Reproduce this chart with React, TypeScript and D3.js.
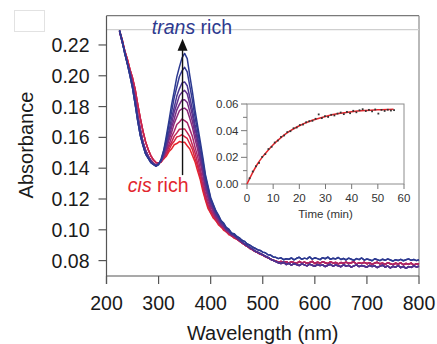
import { useEffect, useRef } from 'react'
import * as d3 from 'd3'

const width = 437
const height = 344
const font = 'Liberation Sans, Arial, sans-serif'

// main plot ticks
const xTicks = [200, 300, 400, 500, 600, 700, 800]
const yTicks = [0.08, 0.10, 0.12, 0.14, 0.16, 0.18, 0.20, 0.22]

// inset ticks
const insetXTicks = [0, 10, 20, 30, 40, 50, 60]
const insetYTicks = [0.00, 0.02, 0.04, 0.06]
const insetYMinor = [0.01, 0.03, 0.05]

// wavelength sampling (nm)
const waveHead = [225, 230, 235, 240, 245, 250, 255, 260, 265, 270, 275, 280, 285, 290, 295]
const wavePeak = [300, 305, 310, 315, 320, 325, 330, 335, 340, 345, 350, 355, 360, 365, 370, 375, 380, 385, 390, 395, 400, 405, 410, 415, 420, 425, 430, 435, 440, 445, 450]
const waveTail = [455, 460, 465, 470, 475, 480, 485, 490, 495, 500, 505, 510, 515, 520, 525, 530, 535, 540, 545, 550,
  555, 560, 565, 570, 575, 580, 585, 590, 595, 600, 605, 610, 615, 620, 625, 630, 635, 640, 645, 650,
  655, 660, 665, 670, 675, 680, 685, 690, 695, 700, 705, 710, 715, 720, 725, 730, 735, 740, 745, 750,
  755, 760, 765, 770, 775, 780, 785, 790, 795, 800]

// short-wavelength part, nearly shared by the spectra
const headBlue = [0.2295, 0.2228, 0.2146, 0.2079, 0.2003, 0.1921, 0.1818, 0.1707, 0.1612, 0.1548, 0.1493, 0.1466, 0.1438, 0.1424, 0.1413]
const headPurple = [0.2288, 0.2221, 0.2158, 0.2082, 0.2024, 0.1942, 0.1852, 0.1738, 0.1649, 0.1569, 0.1516, 0.1478, 0.1451, 0.1430, 0.1421]
const headRed = [0.2292, 0.2236, 0.2163, 0.2107, 0.2041, 0.1985, 0.1912, 0.1813, 0.1722, 0.1641, 0.1572, 0.1521, 0.1482, 0.1454, 0.1437]

// 300-450 nm band, one row per spectrum (trans rich -> cis rich)
const peak0 = [0.1422, 0.1461, 0.1518, 0.1612, 0.1708, 0.1812, 0.1901, 0.1993, 0.2058, 0.2116, 0.2145, 0.2111, 0.1999, 0.1896, 0.1777, 0.1675, 0.1574, 0.1471, 0.1358, 0.1284, 0.1210, 0.1166, 0.1124, 0.1095, 0.1060, 0.1044, 0.1016, 0.1004, 0.0980, 0.0975, 0.0958]
const peak1 = [0.1425, 0.1452, 0.1515, 0.1587, 0.1683, 0.1765, 0.1858, 0.1927, 0.1995, 0.2032, 0.2055, 0.2025, 0.1932, 0.1839, 0.1732, 0.1640, 0.1545, 0.1448, 0.1344, 0.1273, 0.1202, 0.1161, 0.1118, 0.1091, 0.1057, 0.1040, 0.1013, 0.1001, 0.0978, 0.0972, 0.0955]
const peak2 = [0.1427, 0.1455, 0.1498, 0.1571, 0.1642, 0.1726, 0.1795, 0.1868, 0.1915, 0.1953, 0.1960, 0.1935, 0.1859, 0.1778, 0.1684, 0.1601, 0.1509, 0.1421, 0.1323, 0.1255, 0.1189, 0.1150, 0.1109, 0.1083, 0.1050, 0.1034, 0.1008, 0.0996, 0.0974, 0.0967, 0.0950]
const peak3 = [0.1428, 0.1447, 0.1497, 0.1551, 0.1625, 0.1689, 0.1763, 0.1817, 0.1871, 0.1893, 0.1905, 0.1883, 0.1815, 0.1743, 0.1655, 0.1578, 0.1487, 0.1401, 0.1304, 0.1239, 0.1177, 0.1141, 0.1101, 0.1076, 0.1044, 0.1029, 0.1003, 0.0992, 0.0970, 0.0964, 0.0948]
const peak4 = [0.1429, 0.1451, 0.1484, 0.1543, 0.1597, 0.1665, 0.1719, 0.1779, 0.1814, 0.1843, 0.1845, 0.1827, 0.1767, 0.1703, 0.1622, 0.1551, 0.1463, 0.1378, 0.1284, 0.1222, 0.1163, 0.1130, 0.1092, 0.1069, 0.1038, 0.1024, 0.0999, 0.0988, 0.0967, 0.0961, 0.0946]
const peak5 = [0.1430, 0.1444, 0.1484, 0.1524, 0.1583, 0.1632, 0.1691, 0.1732, 0.1773, 0.1785, 0.1790, 0.1775, 0.1723, 0.1665, 0.1589, 0.1521, 0.1437, 0.1355, 0.1265, 0.1206, 0.1150, 0.1119, 0.1083, 0.1062, 0.1032, 0.1019, 0.0995, 0.0985, 0.0964, 0.0959, 0.0944]
const peak6 = [0.1431, 0.1448, 0.1471, 0.1515, 0.1553, 0.1603, 0.1640, 0.1683, 0.1700, 0.1719, 0.1709, 0.1696, 0.1652, 0.1605, 0.1537, 0.1475, 0.1395, 0.1319, 0.1235, 0.1183, 0.1133, 0.1106, 0.1073, 0.1054, 0.1026, 0.1014, 0.0991, 0.0982, 0.0962, 0.0957, 0.0942]
const peak7 = [0.1432, 0.1441, 0.1471, 0.1497, 0.1539, 0.1569, 0.1608, 0.1629, 0.1653, 0.1654, 0.1655, 0.1631, 0.1603, 0.1550, 0.1500, 0.1432, 0.1369, 0.1287, 0.1220, 0.1160, 0.1126, 0.1090, 0.1071, 0.1042, 0.1027, 0.1004, 0.0994, 0.0973, 0.0966, 0.0949, 0.0941]
const peak8 = [0.1433, 0.1446, 0.1461, 0.1494, 0.1518, 0.1554, 0.1575, 0.1603, 0.1608, 0.1617, 0.1605, 0.1593, 0.1557, 0.1521, 0.1463, 0.1411, 0.1340, 0.1274, 0.1199, 0.1154, 0.1111, 0.1089, 0.1059, 0.1043, 0.1017, 0.1007, 0.0985, 0.0977, 0.0958, 0.0954, 0.0940]
const peak9 = [0.1434, 0.1439, 0.1462, 0.1478, 0.1508, 0.1525, 0.1552, 0.1560, 0.1573, 0.1568, 0.1568, 0.1546, 0.1525, 0.1482, 0.1441, 0.1381, 0.1326, 0.1251, 0.1191, 0.1137, 0.1108, 0.1076, 0.1059, 0.1032, 0.1019, 0.0997, 0.0988, 0.0968, 0.0962, 0.0946, 0.0939]

// long-wavelength noisy baseline
const tailBlue = [0.0948, 0.0932, 0.0925, 0.0908, 0.0901, 0.0889, 0.0880, 0.0871, 0.0866, 0.0855, 0.0851, 0.0838, 0.0836, 0.0824, 0.0821, 0.0813, 0.0818, 0.0806, 0.0812, 0.0809,
  0.0817, 0.0805, 0.0815, 0.0822, 0.0808, 0.0816, 0.0811, 0.0824, 0.0809, 0.0818, 0.0813, 0.0806, 0.0819, 0.0812, 0.0823, 0.0808, 0.0815, 0.0811, 0.0820, 0.0807,
  0.0814, 0.0804, 0.0816, 0.0809, 0.0801, 0.0813, 0.0806, 0.0817, 0.0803, 0.0810, 0.0805, 0.0799, 0.0812, 0.0806, 0.0800, 0.0809, 0.0802, 0.0811, 0.0804, 0.0797,
  0.0806, 0.0801, 0.0808, 0.0799, 0.0805, 0.0811, 0.0802, 0.0807, 0.0800, 0.0806]
const tailPurple = [0.0935, 0.0921, 0.0909, 0.0897, 0.0884, 0.0876, 0.0862, 0.0855, 0.0846, 0.0839, 0.0828, 0.0821, 0.0809, 0.0801, 0.0793, 0.0786, 0.0781, 0.0789, 0.0775, 0.0782,
  0.0771, 0.0780, 0.0774, 0.0768, 0.0779, 0.0772, 0.0766, 0.0777, 0.0770, 0.0763, 0.0775, 0.0768, 0.0772, 0.0761, 0.0770, 0.0776, 0.0764, 0.0771, 0.0767, 0.0760,
  0.0773, 0.0765, 0.0769, 0.0758, 0.0766, 0.0772, 0.0761, 0.0768, 0.0763, 0.0757, 0.0769, 0.0762, 0.0766, 0.0755, 0.0764, 0.0770, 0.0758, 0.0765, 0.0752, 0.0763,
  0.0757, 0.0768, 0.0754, 0.0762, 0.0750, 0.0761, 0.0756, 0.0765, 0.0759, 0.0763]
const tailRed = [0.0928, 0.0915, 0.0903, 0.0893, 0.0880, 0.0871, 0.0860, 0.0852, 0.0843, 0.0836, 0.0826, 0.0818, 0.0810, 0.0802, 0.0797, 0.0790, 0.0795, 0.0786, 0.0793, 0.0784,
  0.0791, 0.0787, 0.0782, 0.0794, 0.0785, 0.0790, 0.0783, 0.0788, 0.0795, 0.0781, 0.0789, 0.0784, 0.0792, 0.0786, 0.0780, 0.0791, 0.0785, 0.0788, 0.0779, 0.0787,
  0.0783, 0.0790, 0.0781, 0.0786, 0.0792, 0.0778, 0.0785, 0.0782, 0.0789, 0.0780, 0.0786, 0.0776, 0.0784, 0.0789, 0.0779, 0.0783, 0.0775, 0.0786, 0.0780, 0.0774,
  0.0783, 0.0778, 0.0785, 0.0773, 0.0781, 0.0776, 0.0784, 0.0771, 0.0780, 0.0777]

const heads = [headBlue, headPurple, headRed]
const tails = [tailBlue, tailPurple, tailRed]
const peaks = [peak0, peak1, peak2, peak3, peak4, peak5, peak6, peak7, peak8, peak9]
const headOf = [0, 0, 0, 1, 1, 1, 1, 2, 2, 2]
const tailOf = [0, 0, 1, 1, 1, 1, 2, 2, 2, 2]
const curveColors = ['#2b3990', '#343a93', '#4a3591', '#61318c', '#772d85', '#8d297a', '#a8266a', '#c42453', '#d9243d', '#e5242c']

// inset kinetics: points and fitted curve
const kinTime = [1, 2.2, 3.4, 4.6, 5.8, 7, 8.2, 9.4, 10.6, 11.8, 13, 14.2, 15.4, 16.6, 17.8, 19, 20.2, 21.4, 22.6, 23.8, 25, 26.2, 27.4, 28.6,
  29.8, 31, 32.2, 33.4, 34.6, 35.8, 37, 38.2, 39.4, 40.6, 41.8, 43, 44.2, 45.4, 46.6, 47.8, 49, 50.2, 51.4, 52.6, 53.8, 55, 56.2]
const kinValue = [0.0043, 0.0094, 0.0133, 0.0158, 0.0203, 0.0224, 0.0262, 0.0279, 0.0311, 0.0326, 0.0353, 0.0364, 0.0389, 0.0396, 0.0418, 0.0424, 0.0442, 0.0446, 0.0463, 0.0471, 0.0474, 0.0489, 0.0522, 0.0494,
  0.0509, 0.0503, 0.0519, 0.0514, 0.0528, 0.0536, 0.0524, 0.0541, 0.0531, 0.0549, 0.0538, 0.0553, 0.0561, 0.0547, 0.0556, 0.0545, 0.0559, 0.0528, 0.0556, 0.0548, 0.0557, 0.0551, 0.0554]
const fitTime = [0, 2, 4, 6, 8, 10, 13, 16, 20, 25, 30, 35, 40, 45, 50, 56]
const fitValue = [0, 0.0080, 0.0150, 0.0205, 0.0252, 0.0295, 0.0348, 0.0392, 0.0437, 0.0478, 0.0507, 0.0528, 0.0542, 0.0551, 0.0557, 0.0561]

// annotations (data units)
const arrowWave = 346
const arrowFrom = 0.1355
const arrowTo = 0.2240
const guideLevel = 0.23
const transPos = [287, 0.2271]
const cisPos = [241, 0.1245]

export default function App() {
  const svgRef = useRef<SVGSVGElement>(null)

  useEffect(() => {
    if (!svgRef.current) return
    const svg = d3.select(svgRef.current)
    svg.selectAll('*').remove()

    const x = d3.scaleLinear().domain([200, 800]).range([106.5, 419])
    const y = d3.scaleLinear().domain([0.07, 0.239]).range([276, 15.7])
    const [x0, x1] = x.range()
    const [yb, yt] = y.range()

    // stray box top-left
    svg.append('rect')
      .attr('x', 14.5).attr('y', 10.5).attr('width', 30).attr('height', 21)
      .style('fill', 'none').style('stroke', '#e2e2e2')

    // frame
    svg.append('line').attr('x1', x0).attr('x2', x1).attr('y1', yt).attr('y2', yt)
      .style('stroke', '#7a7a7a').style('stroke-width', '1.2px')
    svg.append('line').attr('x1', x1).attr('x2', x1).attr('y1', yt).attr('y2', yb)
      .style('stroke', '#8a8a8a').style('stroke-width', '1.2px')
    svg.append('line').attr('x1', x0).attr('x2', x1).attr('y1', y(guideLevel)).attr('y2', y(guideLevel))
      .style('stroke', '#cfcfcf').style('stroke-width', '1.2px')

    // spectra
    const line = d3.line<[number, number]>()
      .x(d => x(d[0]))
      .y(d => y(d[1]))
    for (let i = peaks.length - 1; i >= 0; i--) {
      const head = heads[headOf[i]]
      const tail = tails[tailOf[i]]
      const pts: [number, number][] = [
        ...waveHead.map((w, k) => [w, head[k]] as [number, number]),
        ...wavePeak.map((w, k) => [w, peaks[i][k]] as [number, number]),
        ...waveTail.map((w, k) => [w, tail[k]] as [number, number])
      ]
      svg.append('path')
        .attr('d', line(pts))
        .style('fill', 'none')
        .style('stroke', curveColors[i])
        .style('stroke-width', '1.5px')
        .style('stroke-linejoin', 'round')
    }

    // arrow
    const ax = x(arrowWave)
    svg.append('line')
      .attr('x1', ax).attr('x2', ax)
      .attr('y1', y(arrowFrom)).attr('y2', y(arrowTo) + 10)
      .style('stroke', '#111').style('stroke-width', '1.4px')
    svg.append('path')
      .attr('d', `M${ax},${y(arrowTo)} L${ax - 5},${y(arrowTo) + 12} L${ax + 5},${y(arrowTo) + 12} Z`)
      .style('fill', '#111')

    // annotations
    const trans = svg.append('text')
      .attr('x', x(transPos[0])).attr('y', y(transPos[1]))
      .style('fill', '#2e3a8f').style('font-size', '19.5px').style('font-family', font)
    trans.append('tspan').style('font-style', 'italic').text('trans')
    trans.append('tspan').text(' rich')
    const cis = svg.append('text')
      .attr('x', x(cisPos[0])).attr('y', y(cisPos[1]))
      .style('fill', '#e2262e').style('font-size', '19.5px').style('font-family', font)
    cis.append('tspan').style('font-style', 'italic').text('cis')
    cis.append('tspan').text(' rich')

    // axes
    svg.append('line').attr('x1', x0).attr('x2', x0).attr('y1', yt).attr('y2', yb + 8)
      .style('stroke', '#555').style('stroke-width', '1.2px')
    svg.append('line').attr('x1', x0).attr('x2', x1).attr('y1', yb).attr('y2', yb)
      .style('stroke', '#555').style('stroke-width', '1.2px')

    xTicks.forEach(t => {
      svg.append('line').attr('x1', x(t)).attr('x2', x(t)).attr('y1', yb).attr('y2', yb + 8)
        .style('stroke', '#555').style('stroke-width', '1.2px')
      svg.append('text')
        .attr('x', x(t)).attr('y', 310)
        .attr('text-anchor', 'middle')
        .style('fill', '#1a1a1a').style('font-size', '19.5px').style('font-family', font)
        .text(t)
    })
    yTicks.forEach(t => {
      svg.append('line').attr('x1', x0 - 8).attr('x2', x0).attr('y1', y(t)).attr('y2', y(t))
        .style('stroke', '#555').style('stroke-width', '1.2px')
      svg.append('text')
        .attr('x', 89.5).attr('y', y(t) + 7)
        .attr('text-anchor', 'end')
        .style('fill', '#1a1a1a').style('font-size', '19.5px').style('font-family', font)
        .text(t.toFixed(2))
    })

    svg.append('text')
      .attr('x', (x0 + x1) / 2).attr('y', 339.5)
      .attr('text-anchor', 'middle')
      .style('fill', '#1a1a1a').style('font-size', '20px').style('font-family', font)
      .text('Wavelength (nm)')
    svg.append('text')
      .attr('transform', 'translate(32.5,145) rotate(-90)')
      .attr('text-anchor', 'middle')
      .style('fill', '#1a1a1a').style('font-size', '20px').style('font-family', font)
      .text('Absorbance')

    // inset
    const xi = d3.scaleLinear().domain([0, 60]).range([247, 404])
    const yi = d3.scaleLinear().domain([0, 0.06]).range([184, 104])
    const [ix0, ix1] = xi.range()
    const [iyb, iyt] = yi.range()
    svg.append('rect')
      .attr('x', ix0).attr('y', iyt).attr('width', ix1 - ix0).attr('height', iyb - iyt)
      .style('fill', '#fff').style('stroke', '#8c8c8c').style('stroke-width', '1px')

    insetXTicks.forEach(t => {
      svg.append('line').attr('x1', xi(t)).attr('x2', xi(t)).attr('y1', iyb).attr('y2', iyb + 5)
        .style('stroke', '#777').style('stroke-width', '1px')
      svg.append('text')
        .attr('x', xi(t)).attr('y', 202)
        .attr('text-anchor', 'middle')
        .style('fill', '#333').style('font-size', '11.5px').style('font-family', font)
        .text(t)
    })
    insetYTicks.forEach(t => {
      svg.append('line').attr('x1', ix0 - 6).attr('x2', ix0).attr('y1', yi(t)).attr('y2', yi(t))
        .style('stroke', '#777').style('stroke-width', '1px')
      svg.append('text')
        .attr('x', 238.5).attr('y', yi(t) + 4)
        .attr('text-anchor', 'end')
        .style('fill', '#333').style('font-size', '11.5px').style('font-family', font)
        .text(t.toFixed(2))
    })
    insetYMinor.forEach(t => {
      svg.append('line').attr('x1', ix0 - 4).attr('x2', ix0).attr('y1', yi(t)).attr('y2', yi(t))
        .style('stroke', '#777').style('stroke-width', '1px')
    })
    svg.append('text')
      .attr('x', (ix0 + ix1) / 2).attr('y', 218)
      .attr('text-anchor', 'middle')
      .style('fill', '#333').style('font-size', '11.5px').style('font-family', font)
      .text('Time (min)')

    const fitLine = d3.line<number>()
      .x((_, k) => xi(fitTime[k]))
      .y(d => yi(d))
      .curve(d3.curveMonotoneX)
    svg.append('path')
      .attr('d', fitLine(fitValue))
      .style('fill', 'none')
      .style('stroke', '#e3252b')
      .style('stroke-width', '1.5px')
    kinTime.forEach((t, k) => {
      svg.append('rect')
        .attr('x', xi(t) - 0.9).attr('y', yi(kinValue[k]) - 0.9)
        .attr('width', 1.8).attr('height', 1.8)
        .style('fill', '#333')
    })
  }, [])

  return (
    <svg
      ref={svgRef}
      width={width}
      height={height}
      style={{ position: 'absolute', left: 0, top: 0, background: '#fff' }}
    />
  )
}
